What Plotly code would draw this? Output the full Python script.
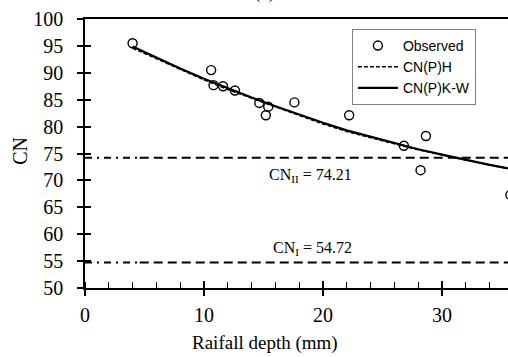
import plotly.graph_objects as go

# Observed data (rainfall depth mm, CN)
obs_p = [4.0, 10.6, 10.8, 11.6, 12.6, 14.65, 15.4, 15.2, 17.6, 22.2, 26.8, 28.65, 28.2, 35.75]
obs_cn = [95.5, 90.5, 87.7, 87.5, 86.7, 84.4, 83.7, 82.1, 84.5, 82.1, 76.45, 78.25, 71.9, 67.3]

# Fitted curves
curve_p = [4, 6, 8, 10, 12, 14, 16, 18, 20, 22, 24, 26, 28, 30, 32, 34, 35.6]
cn_h = [94.6, 92.6, 90.6, 88.7, 86.9, 85.3, 83.7, 82.1, 80.5, 79.1, 77.9, 76.8, 75.7, 74.7, 73.8, 72.9, 72.2]
cn_kw = [94.9, 92.8, 90.8, 88.9, 87.1, 85.4, 83.8, 82.2, 80.7, 79.3, 78.1, 76.9, 75.8, 74.8, 73.8, 72.9, 72.2]

# Reference CN values
cn_ii = 74.21
cn_i = 54.72

x_ticks = [0, 10, 20, 30]
y_ticks = [50, 55, 60, 65, 70, 75, 80, 85, 90, 95, 100]

X_RANGE = [0, 35.55]
Y_RANGE = [50, 100]
SERIF = "Liberation Serif, Times New Roman, serif"

fig = go.Figure()
fig.add_trace(go.Scatter(x=obs_p, y=obs_cn, mode="markers", name="Observed",
                         marker=dict(symbol="circle-open", size=9, color="black",
                                     line=dict(width=1.4, color="black"))))
fig.add_trace(go.Scatter(x=curve_p, y=cn_h, mode="lines", name="CN(P)H",
                         line=dict(color="black", width=1.6, dash="4px,2px")))
fig.add_trace(go.Scatter(x=curve_p, y=cn_kw, mode="lines", name="CN(P)K-W",
                         line=dict(color="black", width=2.2)))

# Horizontal reference lines: short dash-dot start, then dashes
for v in (cn_ii, cn_i):
    fig.add_shape(type="line", xref="x", yref="y", x0=0, x1=4.6, y0=v, y1=v,
                  line=dict(color="black", width=2, dash="7px,5px,2px,5px"))
    fig.add_shape(type="line", xref="x", yref="y", x0=4.6, x1=X_RANGE[1], y0=v, y1=v,
                  line=dict(color="black", width=2, dash="9px,5px"))

fig.add_annotation(x=15.3, y=cn_ii - 1.2, xref="x", yref="y", yanchor="top", xanchor="left",
                   text=f"CN<sub>II</sub> = {cn_ii:.2f}", showarrow=False,
                   font=dict(family=SERIF, size=16, color="black"))
fig.add_annotation(x=15.6, y=cn_i + 0.4, xref="x", yref="y", yanchor="bottom", xanchor="left",
                   text=f"CN<sub>I</sub> = {cn_i:.2f}", showarrow=False,
                   font=dict(family=SERIF, size=16, color="black"))

# Axis titles as annotations
fig.add_annotation(x=15.1, y=0, xref="x", yref="paper", yanchor="top", xanchor="center",
                   yshift=-42, text="Raifall depth (mm)", showarrow=False,
                   font=dict(family=SERIF, size=19, color="black"))
fig.add_annotation(x=0, y=0.51, xref="paper", yref="paper", xanchor="center", yanchor="middle",
                   xshift=-65, text="CN", textangle=-90, showarrow=False,
                   font=dict(family=SERIF, size=20, color="black"))
# Cropped panel title
fig.add_annotation(x=15.1, y=1, xref="x", yref="paper", xanchor="center", yanchor="bottom",
                   yshift=14, text="(a)", showarrow=False,
                   font=dict(family=SERIF, size=19, color="black"))

axis_font = dict(family=SERIF, size=20, color="black")
fig.update_layout(
    width=508, height=357,
    margin=dict(l=85, r=0, t=19, b=69),
    paper_bgcolor="white", plot_bgcolor="white",
    showlegend=True,
    legend=dict(x=0.631, y=0.963, xanchor="left", yanchor="top",
                bordercolor="#808080", borderwidth=1, bgcolor="white",
                font=dict(family="Liberation Sans, Arial, sans-serif", size=14, color="black"),
                tracegroupgap=0, itemwidth=40),
    xaxis=dict(range=X_RANGE, tickvals=x_ticks, ticks="outside", ticklen=6, tickwidth=1.5,
               tickcolor="black", showline=True, linecolor="black", linewidth=1.5, mirror=True,
               showgrid=False, zeroline=False, tickfont=axis_font, ticklabelstandoff=2,
               minor=dict(dtick=2, ticks="inside", ticklen=6, tickwidth=1.2, tickcolor="black",
                          showgrid=False)),
    xaxis2=dict(range=X_RANGE, overlaying="x", anchor="y", side="bottom", tickvals=x_ticks,
                ticks="inside", ticklen=7, tickwidth=1.5, tickcolor="black",
                showticklabels=False, showgrid=False, zeroline=False, showline=False),
    yaxis=dict(range=Y_RANGE, tickvals=y_ticks, ticks="outside", ticklen=6, tickwidth=1.5,
               tickcolor="black", showline=True, linecolor="black", linewidth=1.5,
               showgrid=False, zeroline=False, tickfont=axis_font, ticklabelstandoff=10),
    yaxis2=dict(range=Y_RANGE, overlaying="y", anchor="x", side="left", tickvals=y_ticks,
                ticks="inside", ticklen=6, tickwidth=1.5, tickcolor="black",
                showticklabels=False, showgrid=False, zeroline=False, showline=False),
)
# dummy invisible trace to activate overlay axes
fig.add_trace(go.Scatter(x=[None], y=[None], xaxis="x2", yaxis="y2", showlegend=False,
                         hoverinfo="skip"))

fig.write_html("out.html")
